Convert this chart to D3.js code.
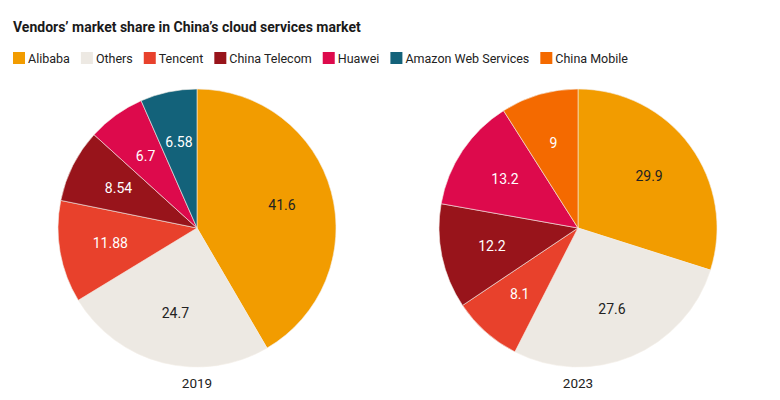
<!DOCTYPE html>
<html>
<head>
<meta charset="utf-8">
<script src="https://cdn.jsdelivr.net/npm/d3@7"></script>
<style>
  body { margin: 0; background: #fff; }
  svg { font-family: Roboto, "Noto Sans", sans-serif; }
</style>
</head>
<body>
<svg id="chart" width="780" height="400"></svg>
<script>
(function () {
    'use strict';

    var vendors = ['Alibaba', 'Others', 'Tencent', 'China Telecom', 'Huawei', 'Amazon Web Services', 'China Mobile'];
    var colours = ['#f29c00', '#ede9e3', '#e8412c', '#98141b', '#dd0a4c', '#13627a', '#f46a00'];
    var darkText = ['Alibaba', 'Others'];

    var years = ['2019', '2023'];
    var vendors2019 = ['Alibaba', 'Others', 'Tencent', 'China Telecom', 'Huawei', 'Amazon Web Services'];
    var shares2019 = [41.6, 24.7, 11.88, 8.54, 6.7, 6.58];
    var vendors2023 = ['Alibaba', 'Others', 'Tencent', 'China Telecom', 'Huawei', 'China Mobile'];
    var shares2023 = [29.9, 27.6, 8.1, 12.2, 13.2, 9];

    var svg = d3.select('#chart'),
        colour = d3.scaleOrdinal().domain(vendors).range(colours),
        r = 139, labelR = 88,
        centres = [197, 578], cy = 228;

    svg.append('text')
        .attr('x', 13)
        .attr('y', 32)
        .attr('font-size', 14)
        .attr('font-weight', 'bold')
        .attr('fill', '#1a1a1a')
        .text('Vendors\u2019 market share in China\u2019s cloud services market');

    // legend, laid out left to right
    var legend = svg.append('g').attr('transform', 'translate(13,52)'), lx = 0;
    vendors.forEach(function (v) {
        var item = legend.append('g').attr('transform', 'translate(' + lx + ',0)');
        item.append('rect').attr('width', 12).attr('height', 12).attr('fill', colour(v));
        var t = item.append('text')
            .attr('x', 15)
            .attr('y', 11)
            .attr('font-size', 12.5)
            .attr('fill', '#222')
            .text(v);
        lx += 15 + t.node().getComputedTextLength() + 11;
    });

    var pie = d3.pie().sort(null).value(function (d) { return d.value; }),
        arc = d3.arc().innerRadius(0).outerRadius(r),
        labelArc = d3.arc().innerRadius(labelR).outerRadius(labelR);

    [[vendors2019, shares2019], [vendors2023, shares2023]].forEach(function (set, i) {
        var data = set[0].map(function (v, j) { return {name: v, value: set[1][j]}; }),
            g = svg.append('g').attr('transform', 'translate(' + centres[i] + ',' + cy + ')');

        g.selectAll('path')
            .data(pie(data))
            .enter().append('path')
            .attr('d', arc)
            .attr('fill', function (d) { return colour(d.data.name); })
            .attr('stroke', '#f4eee8')
            .attr('stroke-width', 0.6);

        g.selectAll('text.val')
            .data(pie(data))
            .enter().append('text')
            .attr('class', 'val')
            .attr('transform', function (d) { return 'translate(' + labelArc.centroid(d) + ')'; })
            .attr('text-anchor', 'middle')
            .attr('dy', '0.35em')
            .attr('font-size', 14)
            .attr('fill', function (d) { return darkText.indexOf(d.data.name) >= 0 ? '#222' : '#fff'; })
            .text(function (d) { return d.data.value; });

        g.append('text')
            .attr('y', 160)
            .attr('text-anchor', 'middle')
            .attr('font-size', 13.5)
            .attr('fill', '#222')
            .text(years[i]);
    });
}());
</script>
</body>
</html>
